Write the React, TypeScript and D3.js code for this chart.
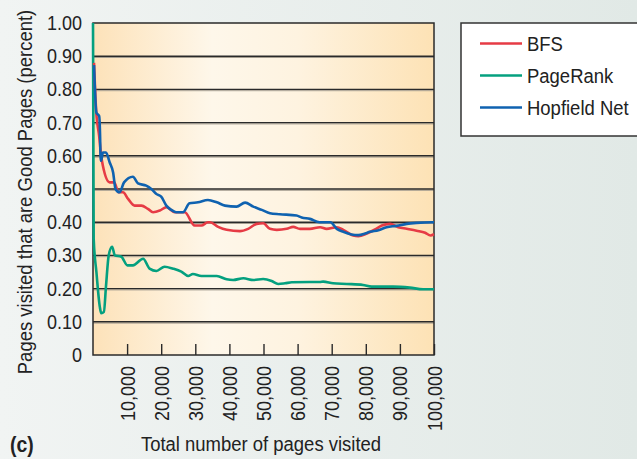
import React, { useEffect, useRef } from 'react';
import * as d3 from 'd3';

const seriesNames = ['BFS', 'PageRank', 'Hopfield Net'];
const seriesColors = ['#e63b45', '#04a07f', '#0f62b0'];

const bfsX = [300, 900, 1800, 2400, 2900, 4900, 6200, 7500, 8800, 10300, 12200, 14200, 16100, 17600, 19600, 21500, 24000, 26900, 29800, 31800, 33700, 34300, 36700, 39200, 43100, 45500, 48000, 49900, 51900, 53900, 56800, 58700, 60700, 63600, 66600, 68500, 71500, 73400, 76300, 77800, 80300, 82700, 84700, 87100, 89500, 92000, 94900, 97400, 99000, 100000];
const bfsY = [0.88, 0.74, 0.66, 0.6, 0.57, 0.52, 0.52, 0.49, 0.49, 0.47, 0.45, 0.45, 0.44, 0.43, 0.435, 0.445, 0.43, 0.43, 0.39, 0.39, 0.4, 0.4, 0.386, 0.377, 0.373, 0.38, 0.395, 0.397, 0.38, 0.377, 0.38, 0.386, 0.38, 0.38, 0.385, 0.38, 0.385, 0.377, 0.36, 0.358, 0.366, 0.378, 0.39, 0.395, 0.385, 0.38, 0.374, 0.368, 0.36, 0.364];

const pageRankX = [0, 200, 1000, 2000, 2400, 3200, 3800, 4600, 5600, 6400, 8300, 10100, 11700, 14700, 16600, 18600, 21000, 23500, 25900, 27900, 29300, 31800, 33700, 36300, 39200, 41100, 44100, 47000, 49900, 52400, 54300, 56300, 58300, 63600, 66600, 67500, 70400, 74400, 79200, 81700, 88000, 92900, 96800, 100000];
const pageRankY = [1.0, 0.35, 0.25, 0.145, 0.126, 0.13, 0.206, 0.3, 0.326, 0.3, 0.296, 0.27, 0.27, 0.29, 0.26, 0.253, 0.266, 0.26, 0.251, 0.238, 0.244, 0.238, 0.238, 0.238, 0.228, 0.226, 0.231, 0.226, 0.229, 0.223, 0.214, 0.216, 0.219, 0.22, 0.22, 0.221, 0.216, 0.214, 0.211, 0.206, 0.206, 0.203, 0.198, 0.198];

const hopfieldX = [300, 1000, 1800, 2100, 2200, 2400, 2900, 3800, 4900, 5900, 6600, 7800, 9100, 11700, 13200, 15600, 17100, 18600, 20000, 21500, 23000, 24400, 26400, 28300, 30800, 33700, 36300, 38700, 42100, 44600, 47000, 49500, 51900, 54800, 59700, 61200, 63600, 66400, 69600, 71500, 73400, 75800, 77800, 79800, 81200, 83700, 86100, 89000, 92000, 94900, 99300, 100000];
const hopfieldY = [0.873, 0.73, 0.72, 0.65, 0.585, 0.585, 0.61, 0.61, 0.58, 0.55, 0.5, 0.49, 0.52, 0.537, 0.517, 0.51, 0.5, 0.485, 0.477, 0.45, 0.437, 0.43, 0.43, 0.457, 0.46, 0.467, 0.46, 0.45, 0.447, 0.459, 0.447, 0.437, 0.427, 0.424, 0.42, 0.414, 0.41, 0.4, 0.4, 0.38, 0.371, 0.363, 0.361, 0.366, 0.371, 0.376, 0.385, 0.389, 0.395, 0.398, 0.4, 0.4];

const xTicks = [10000, 20000, 30000, 40000, 50000, 60000, 70000, 80000, 90000, 100000];
const yTicks = [0, 0.1, 0.2, 0.3, 0.4, 0.5, 0.6, 0.7, 0.8, 0.9, 1.0];

// no condensed face installed, so squeeze Liberation Sans horizontally
const FONT = "'Liberation Sans', Arial, sans-serif";
const TICK_SX = 0.9;
const TEXT_SX = 0.88;

export default function App() {
	const svgRef = useRef(null);

	useEffect(() => {
		const svg = d3.select(svgRef.current);
		svg.selectAll('*').remove();

		const W = 637;
		const H = 459;
		const margin = { top: 23, left: 93, right: 203, bottom: 104 };
		const width = W - margin.left - margin.right;
		const height = H - margin.top - margin.bottom;

		const defs = svg.append('defs');
		const bg = defs.append('linearGradient').attr('id', 'bg');
		bg.append('stop').attr('offset', '0%').attr('stop-color', '#f1f4f3');
		bg.append('stop').attr('offset', '100%').attr('stop-color', '#e1e9e6');

		const pg = defs.append('linearGradient').attr('id', 'plotbg');
		pg.append('stop').attr('offset', '0%').attr('stop-color', '#fde2b9');
		pg.append('stop').attr('offset', '35%').attr('stop-color', '#fef7ea');
		pg.append('stop').attr('offset', '60%').attr('stop-color', '#fef3e0');
		pg.append('stop').attr('offset', '100%').attr('stop-color', '#fde2b5');

		svg.append('rect').attr('width', W).attr('height', H).attr('fill', 'url(#bg)');

		const g = svg.append('g').attr('transform', `translate(${margin.left},${margin.top})`);

		const x = d3.scaleLinear().domain([0, 100000]).range([0, width]);
		const y = d3.scaleLinear().domain([0, 1]).range([height, 0]);

		g.append('rect').attr('width', width).attr('height', height).attr('fill', 'url(#plotbg)');

		// grid lines
		const grid = g.append('g');
		yTicks.slice(1, -1).forEach((t) => {
			grid.append('line')
				.attr('x1', 0).attr('x2', width)
				.attr('y1', y(t) + 1.3).attr('y2', y(t) + 1.3)
				.attr('stroke', '#a49d90').attr('stroke-width', 1);
			grid.append('line')
				.attr('x1', 0).attr('x2', width)
				.attr('y1', y(t)).attr('y2', y(t))
				.attr('stroke', '#2a2a2a').attr('stroke-width', 1.4);
		});

		// x axis with inward ticks and rotated labels
		const xAxis = g.append('g')
			.attr('transform', `translate(0,${height})`)
			.call(d3.axisBottom(x).tickValues(xTicks).tickSizeInner(-11).tickSizeOuter(0).tickFormat(d3.format(',')));
		xAxis.select('.domain').remove();
		xAxis.selectAll('.tick line').attr('stroke', '#2a2a2a').attr('stroke-width', 1.4);
		xAxis.selectAll('text')
			.attr('transform', `rotate(-90) scale(${TICK_SX},1)`)
			.attr('text-anchor', 'end')
			.attr('x', -11 / TICK_SX)
			.attr('y', 0)
			.attr('dy', '0.35em')
			.style('font-family', FONT)
			.style('font-size', '20px')
			.attr('fill', '#222');

		// y axis labels
		const yAxis = g.append('g')
			.call(d3.axisLeft(y).tickValues(yTicks).tickSize(0)
				.tickFormat((d) => (d === 0 ? '0' : d3.format('.2f')(d))));
		yAxis.select('.domain').remove();
		yAxis.selectAll('text')
			.attr('transform', `scale(${TICK_SX},1)`)
			.attr('x', -11 / TICK_SX)
			.style('font-family', FONT)
			.style('font-size', '20px')
			.attr('fill', '#222');

		// plot frame
		g.append('rect')
			.attr('width', width).attr('height', height)
			.attr('fill', 'none').attr('stroke', '#2a2a2a').attr('stroke-width', 1.5);

		const line = d3.line()
			.x((d) => x(d[0]))
			.y((d) => y(d[1]))
			.curve(d3.curveMonotoneX);

		const series = [
			{ xs: pageRankX, ys: pageRankY, color: seriesColors[1] },
			{ xs: bfsX, ys: bfsY, color: seriesColors[0] },
			{ xs: hopfieldX, ys: hopfieldY, color: seriesColors[2] },
		];
		series.forEach((s) => {
			g.append('path')
				.datum(s.xs.map((v, i) => [v, s.ys[i]]))
				.attr('fill', 'none')
				.attr('stroke', s.color)
				.attr('stroke-width', 2.6)
				.attr('stroke-linejoin', 'round')
				.attr('d', line);
		});

		const label = (parent, tx, ty, rot, txt, opts = {}) =>
			parent.append('text')
				.attr('transform', `translate(${tx},${ty}) rotate(${rot}) scale(${TEXT_SX},1)`)
				.attr('text-anchor', opts.anchor || 'start')
				.attr('dy', opts.dy || 0)
				.style('font-family', FONT)
				.style('font-size', opts.size || '21px')
				.style('font-weight', opts.weight || 'normal')
				.attr('fill', '#222')
				.text(txt);

		// axis titles
		label(svg, 32, 192, -90, 'Pages visited that are Good Pages (percent)', { anchor: 'middle' });
		label(svg, 261, 451, 0, 'Total number of pages visited', { anchor: 'middle' });
		label(svg, 10, 452, 0, '(c)', { weight: 'bold', size: '22px' });

		// legend
		const legend = svg.append('g').attr('transform', 'translate(461,23)');
		legend.append('rect')
			.attr('width', 190).attr('height', 113)
			.attr('fill', '#fff').attr('stroke', '#333').attr('stroke-width', 1.5);
		seriesNames.forEach((name, i) => {
			const row = legend.append('g').attr('transform', `translate(0,${20.5 + i * 32})`);
			row.append('line')
				.attr('x1', 19).attr('x2', 61)
				.attr('stroke', seriesColors[i]).attr('stroke-width', 2.6);
			label(row, 66, 0, 0, name, { dy: '0.35em' });
		});
	}, []);

	return (
		<svg
			ref={svgRef}
			width={637}
			height={459}
			style={{ position: 'absolute', left: 0, top: 0, display: 'block' }}
		/>
	);
}
